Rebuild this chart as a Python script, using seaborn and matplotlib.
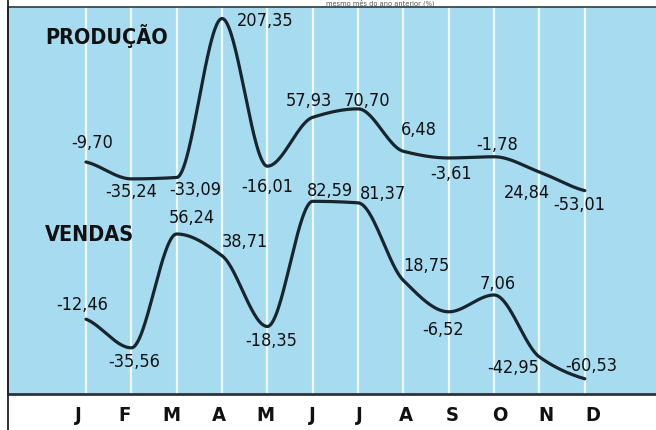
import numpy as np
import seaborn as sns
import matplotlib.pyplot as plt
from matplotlib.lines import Line2D
from matplotlib import font_manager as fm

months = ['J', 'F', 'M', 'A', 'M', 'J', 'J', 'A', 'S', 'O', 'N', 'D']

producao = [-9.70, -35.24, -33.09, 207.35, -16.01, 57.93, 70.70, 6.48, -3.61, -1.78, -24.84, -53.01]
producao_txt = ['-9,70', '-35,24', '-33,09', '207,35', '-16,01', '57,93', '70,70',
                '6,48', '-3,61', '-1,78', '24,84', '-53,01']

vendas = [-12.46, -35.56, 56.24, 38.71, -18.35, 82.59, 81.37, 18.75, -6.52, 7.06, -42.95, -60.53]
vendas_txt = ['-12,46', '-35,56', '56,24', '38,71', '-18,35', '82,59', '81,37',
              '18,75', '-6,52', '7,06', '-42,95', '-60,53']

# label offsets from the point, in pixels (x right, y down)
prod_off = [(6, -20), (0, 12), (19, 12), (43, 1), (0, 20), (-4, -17), (9, -9),
            (15, -22), (2, 15), (3, -13), (-13, 20), (-6, 13)]
vend_off = [(-4, -15), (3, 13), (15, -17), (23, -15), (4, 14), (17, -11), (25, -10),
            (23, -15), (-6, 17), (4, -12), (-26, 10), (6, -14)]

sns.set_style('white')


def narrow_font(bold):
    # look for an installed condensed face, else fall back to Roboto / DejaVu
    want = 700 if bold else 400
    found = []
    for f in fm.fontManager.ttflist:
        nm = f.name + ' ' + f.fname
        if ('Narrow' in nm or 'Condensed' in nm or f.stretch in ('condensed', 'semi-condensed')) \
                and f.style == 'normal':
            w = f.weight if isinstance(f.weight, int) else (700 if 'bold' in str(f.weight) else 400)
            found.append((abs(w - want), 'Liberation' not in nm, f.fname))
    if found:
        found.sort()
        return fm.FontProperties(fname=found[0][2])
    return fm.FontProperties(family=['Roboto', 'DejaVu Sans'],
                             weight='bold' if bold else 'normal')


REG = narrow_font(False)
BOLD = narrow_font(True)

BLUE = '#a7dbf0'
INK = '#18252d'


def smooth(x, y, n=600):
    # monotone cubic (Fritsch-Carlson) just for drawing a smooth curve
    x = np.asarray(x, float)
    y = np.asarray(y, float)
    h = np.diff(x)
    d = np.diff(y) / h
    m = np.zeros_like(y)
    for k in range(1, len(y) - 1):
        if d[k - 1] * d[k] > 0:
            w1 = 2 * h[k] + h[k - 1]
            w2 = h[k] + 2 * h[k - 1]
            m[k] = (w1 + w2) / (w1 / d[k - 1] + w2 / d[k])
    m[0] = d[0] * 0.6
    m[-1] = d[-1] * 0.6
    xs = np.linspace(x[0], x[-1], n)
    idx = np.clip(np.searchsorted(x, xs) - 1, 0, len(x) - 2)
    t = (xs - x[idx]) / h[idx]
    h00 = 2 * t**3 - 3 * t**2 + 1
    h10 = t**3 - 2 * t**2 + t
    h01 = -2 * t**3 + 3 * t**2
    h11 = t**3 - t**2
    ys = h00 * y[idx] + h10 * h[idx] * m[idx] + h01 * y[idx + 1] + h11 * h[idx] * m[idx + 1]
    return xs, ys


W, H = 656, 431
fig = plt.figure(figsize=(W / 100, H / 100), dpi=100)
fig.patch.set_facecolor('white')

ax = fig.add_axes([8 / W, 36 / H, 648 / W, 387 / H])
ax.set_facecolor(BLUE)
ax.set_xlim(-1.72, 12.57)
ax.set_ylim(-72.8, 239.3)
ax.set_xticks(range(12))
ax.set_yticks([])
ax.tick_params(axis='x', length=0, labelbottom=False)
ax.grid(axis='x', color='#eef8fc', linewidth=1.6)
ax.set_axisbelow(True)
ax.spines['right'].set_visible(False)
ax.spines['top'].set_color('#3a474d')
ax.spines['top'].set_linewidth(1.3)
ax.spines['bottom'].set_color('#2a3439')
ax.spines['bottom'].set_linewidth(2.0)
ax.spines['left'].set_color('#222222')
ax.spines['left'].set_linewidth(1.3)

ax2 = ax.twinx()
ax2.set_ylim(-360.7, 224.8)
ax2.set_yticks([])
for s in ax2.spines.values():
    s.set_visible(False)

x = np.arange(12)
xs, ys = smooth(x, vendas)
sns.lineplot(x=xs, y=ys, ax=ax, color=INK, linewidth=2.3, sort=False, estimator=None)
xs, ys = smooth(x, producao)
sns.lineplot(x=xs, y=ys, ax=ax2, color=INK, linewidth=2.3, sort=False, estimator=None)

for i in range(12):
    dx, dy = prod_off[i]
    ax2.annotate(producao_txt[i], (i, producao[i]), xytext=(dx * 0.72, -dy * 0.72),
                 textcoords='offset points', ha='center', va='center',
                 fontproperties=REG, fontsize=13, color='#111111')
    dx, dy = vend_off[i]
    ax.annotate(vendas_txt[i], (i, vendas[i]), xytext=(dx * 0.72, -dy * 0.72),
                textcoords='offset points', ha='center', va='center',
                fontproperties=REG, fontsize=13, color='#111111')

fig.text(45 / W, 1 - 36 / H, 'PRODUÇÃO', ha='left', va='center',
         fontproperties=BOLD, fontsize=15.5, color='#111111')
fig.text(45 / W, 1 - 235 / H, 'VENDAS', ha='left', va='center',
         fontproperties=BOLD, fontsize=15.5, color='#111111')

# month band under the plot
axm = fig.add_axes([8 / W, 0, 648 / W, 35 / H])
axm.set_xlim(-1.495, 12.345)
axm.set_ylim(0, 1)
axm.axis('off')
for i, mth in enumerate(months):
    axm.text(i, 0.44, mth, ha='center', va='center', fontproperties=BOLD,
             fontsize=14.5, color='#111111')

# frame line running down the left side
fig.add_artist(Line2D([7.5 / W, 7.5 / W], [0, 1], color='#222222', linewidth=1.3))

# heading line squeezed into the thin top band
fig.text(326 / W, 1 - 3.4 / H, 'mesmo mês do ano anterior (%)', ha='left', va='center',
         fontproperties=REG, fontsize=5.3, color='#555555')

fig.savefig('out.png', dpi=100, facecolor='white')
